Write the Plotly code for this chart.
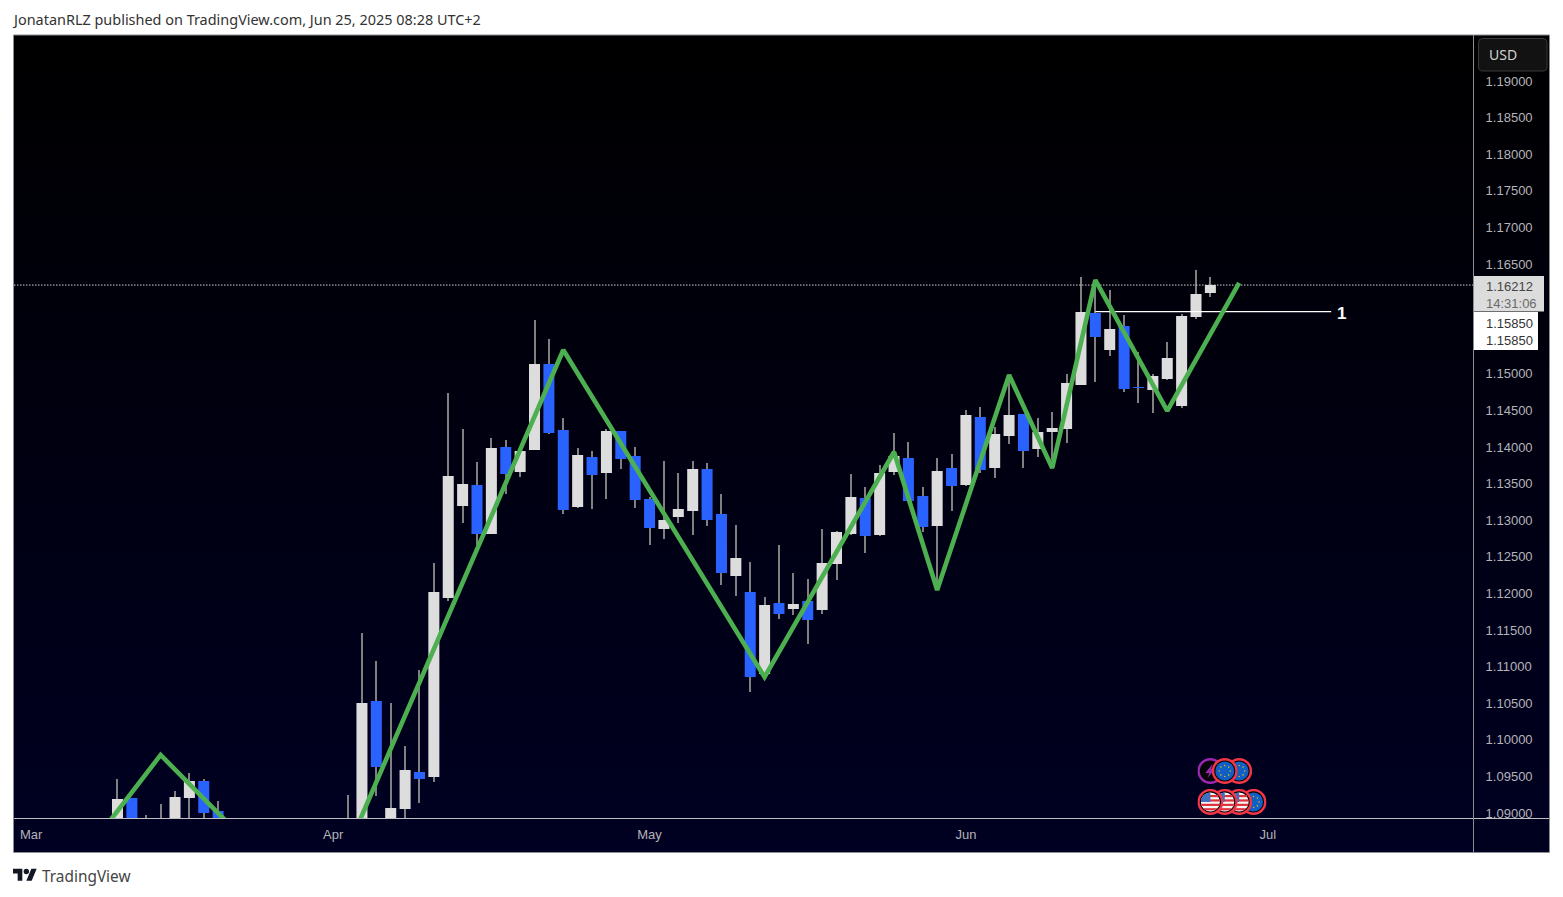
import base64
import plotly.graph_objects as go

W, H = 1563, 897

# ---- data (daily candles, index 0 = 11 Mar 2025) ----
opens = [1.0880, 1.09205, 1.0880, 1.0880, 1.0885, 1.09205, 1.09437, 1.09027,
         1.0885, 1.0860, 1.0840, 1.0835, 1.0815, 1.0800, 1.0810, 1.0815,
         1.0810, 1.0880, 1.10530, 1.0885, 1.09055, 1.09560, 1.09492, 1.11937,
         1.13194, 1.13481, 1.12812, 1.14000, 1.13659, 1.13959, 1.15134, 1.14232,
         1.13180, 1.13863, 1.13645, 1.14219, 1.13877, 1.13290, 1.12880, 1.13044,
         1.13126, 1.13699, 1.13085, 1.12238, 1.12019, 1.10899, 1.11869, 1.11787,
         1.11896, 1.11773, 1.12402, 1.12812, 1.13303, 1.12798, 1.13659, 1.13850,
         1.13331, 1.12921, 1.13713, 1.13481, 1.14410, 1.13713, 1.14150, 1.14451,
         1.13973, 1.14205, 1.14246, 1.14847, 1.15831, 1.15325, 1.15653, 1.14820,
         1.14779, 1.14929, 1.14560, 1.15776, 1.16104]
highs = [1.09465, 1.09205, 1.08973, 1.09123, 1.09300, 1.09546, 1.09465, 1.09164,
         1.0888, 1.0870, 1.0860, 1.0850, 1.0835, 1.0820, 1.0830, 1.0840,
         1.09246, 1.11459, 1.11077, 1.10503, 1.09915, 1.10954, 1.12415, 1.14738,
         1.14246, 1.13795, 1.14123, 1.14096, 1.13945, 1.15735, 1.15475, 1.14396,
         1.13986, 1.13945, 1.14246, 1.14219, 1.14000, 1.13317, 1.13809, 1.13645,
         1.13809, 1.13782, 1.13358, 1.12935, 1.12429, 1.11951, 1.12662, 1.12279,
         1.12197, 1.12880, 1.12853, 1.13631, 1.13454, 1.13754, 1.14191, 1.14068,
         1.13454, 1.13850, 1.13904, 1.14505, 1.14546, 1.14273, 1.14983, 1.14451,
         1.14396, 1.14478, 1.14997, 1.16322, 1.16281, 1.16145, 1.15803, 1.15297,
         1.14997, 1.15434, 1.15817, 1.16418, 1.16322]
lows = [1.0870, 1.0870, 1.0870, 1.0870, 1.0875, 1.0880, 1.0885, 1.0875,
        1.0850, 1.0830, 1.0820, 1.0805, 1.0790, 1.0785, 1.0790, 1.0795,
        1.0790, 1.0860, 1.09233, 1.0875, 1.0885, 1.09136, 1.09424, 1.11896,
        1.12962, 1.12662, 1.12812, 1.13358, 1.13590, 1.13959, 1.14178, 1.13085,
        1.13167, 1.13153, 1.13290, 1.13699, 1.13167, 1.12662, 1.12744, 1.12962,
        1.12798, 1.12921, 1.12115, 1.11965, 1.10654, 1.10899, 1.11651, 1.11705,
        1.11309, 1.11719, 1.12184, 1.12798, 1.12552, 1.12785, 1.13618, 1.13262,
        1.12839, 1.12046, 1.13126, 1.13467, 1.13645, 1.13577, 1.14041, 1.13713,
        1.13863, 1.13823, 1.14055, 1.14847, 1.14888, 1.15243, 1.14751, 1.14601,
        1.14465, 1.14915, 1.14533, 1.15749, 1.16049]
closes = [1.09191, 1.0880, 1.0888, 1.0890, 1.09219, 1.09437, 1.09000, 1.0885,
          1.0860, 1.0840, 1.0835, 1.0815, 1.0800, 1.0810, 1.0815, 1.0810,
          1.0880, 1.10503, 1.09629, 1.09068, 1.09587, 1.09465, 1.12019, 1.13604,
          1.13495, 1.12812, 1.13986, 1.13631, 1.13945, 1.15134, 1.14191, 1.13139,
          1.13891, 1.13618, 1.14219, 1.13836, 1.13276, 1.12894, 1.13003, 1.13153,
          1.13699, 1.13003, 1.12279, 1.12484, 1.10858, 1.11842, 1.11719, 1.11856,
          1.11637, 1.12415, 1.12839, 1.13317, 1.12785, 1.13645, 1.13877, 1.13262,
          1.12907, 1.13672, 1.13467, 1.14437, 1.13686, 1.14178, 1.14437, 1.13945,
          1.14205, 1.14260, 1.14874, 1.15844, 1.15503, 1.15612, 1.14792, 1.14806,
          1.14970, 1.15216, 1.15790, 1.16090, 1.16213]

zigzag_x = [-3, 3, 14, 31, 45, 54, 57, 62, 65, 68, 73, 78]
zigzag_y = [1.08262, 1.09793, 1.07607, 1.15325, 1.10858, 1.13932, 1.12046,
            1.14983, 1.13713, 1.16281, 1.14492, 1.16241]

level_x = [68, 84.4]
level_price = 1.15850
last_price = 1.16212
price_ticks = [1.09, 1.095, 1.10, 1.105, 1.11, 1.115, 1.12, 1.125, 1.13, 1.135,
               1.14, 1.145, 1.15, 1.165, 1.17, 1.175, 1.18, 1.185, 1.19]
month_ticks = [-6, 15, 37, 59, 80]
month_labels = ["Mar", "Apr", "May", "Jun", "Jul"]

event_x = [76, 78, 77, 79, 78, 77, 76]
event_y = [1.09574, 1.09574, 1.09574, 1.09151, 1.09151, 1.09151, 1.09151]
event_kind = ["bolt", "eu", "eu", "eu", "us", "us", "us"]

x_range = [-7.197, 94.262]
y_range = [1.08932, 1.19628]

WHITE, BLUE, GREEN = "#dddddd", "#2962ff", "#4caf50"
WICK = "#808080"
AXIS_TXT = "#b4b4b8"
FRAME = "#8c8c94"


def px(x):
    return x / W


def py(y):
    return 1 - y / H


def svg_uri(svg):
    return "data:image/svg+xml;base64," + base64.b64encode(svg.encode()).decode()


def icon(kind):
    body = ""
    ring = "#f23645"
    if kind == "eu":
        dots = "".join(
            f'<circle cx="{x}" cy="{y}" r="0.8" fill="#d8b820"/>'
            for x, y in [(13, 7.5), (16.9, 9.1), (18.5, 13), (16.9, 16.9), (13, 18.5),
                         (9.1, 16.9), (7.5, 13), (9.1, 9.1)])
        body = f'<circle cx="13" cy="13" r="9.5" fill="#0f5fc4"/>{dots}'
    elif kind == "us":
        stripes = "".join(f'<rect x="3" y="{y}" width="20" height="2.2" fill="#e0303a"/>'
                          for y in (6, 10.4, 14.8, 19.2))
        body = ('<clipPath id="c"><circle cx="13" cy="13" r="9.5"/></clipPath>'
                f'<g clip-path="url(#c)"><rect x="3" y="3" width="20" height="20" fill="#f5f5f5"/>{stripes}'
                '<rect x="3" y="3" width="10" height="10" fill="#3f6fc0"/></g>')
    else:
        ring = "#9c27b0"
        body = '<path d="M15 6 L8 15 L12 15 L10 20 L18 11 L14 11 Z" fill="#9c27b0"/>'
    return svg_uri(
        '<svg xmlns="http://www.w3.org/2000/svg" width="26" height="26" viewBox="0 0 26 26">'
        f'<circle cx="13" cy="13" r="11.8" fill="#05050a" stroke="{ring}" stroke-width="2.4"/>{body}</svg>')


def rounded(x0, y0, x1, y1, r):
    def p(x, y):
        return f"{px(x):.6f},{py(y):.6f}"
    return (f"M{p(x0 + r, y0)} L{p(x1 - r, y0)} Q{p(x1, y0)} {p(x1, y0 + r)} "
            f"L{p(x1, y1 - r)} Q{p(x1, y1)} {p(x1 - r, y1)} L{p(x0 + r, y1)} "
            f"Q{p(x0, y1)} {p(x0, y1 - r)} L{p(x0, y0 + r)} Q{p(x0, y0)} {p(x0 + r, y0)} Z")


idx = list(range(len(opens)))
body_hi = [max(o, c) for o, c in zip(opens, closes)]
body_lo = [min(o, c) for o, c in zip(opens, closes)]
wick_len = [h - l for h, l in zip(highs, lows)]

fig = go.Figure()
# wicks (bars sit under the candle bodies)
fig.add_trace(go.Bar(x=idx, y=wick_len, base=lows, width=0.07,
                     marker=dict(color=WICK, line=dict(width=0)), hoverinfo="skip"))
# bodies
fig.add_trace(go.Candlestick(
    x=idx, open=opens, high=body_hi, low=body_lo, close=closes, whiskerwidth=0,
    increasing=dict(line=dict(color=WHITE, width=0), fillcolor=WHITE),
    decreasing=dict(line=dict(color=BLUE, width=0), fillcolor=BLUE),
    hoverinfo="skip"))
# dotted last price line
fig.add_trace(go.Scatter(x=x_range, y=[last_price, last_price], mode="lines",
                         line=dict(color="#d0d0d0", width=1, dash="1.5px,1.5px"), hoverinfo="skip"))
# horizontal level
fig.add_trace(go.Scatter(x=level_x, y=[level_price, level_price], mode="lines",
                         line=dict(color="#ffffff", width=1.3), hoverinfo="skip"))
# zigzag
fig.add_trace(go.Scatter(x=zigzag_x, y=zigzag_y, mode="lines",
                         line=dict(color=GREEN, width=4.6, shape="linear"), hoverinfo="skip"))

bg = svg_uri(
    '<svg xmlns="http://www.w3.org/2000/svg" width="100" height="100" preserveAspectRatio="none">'
    '<defs><linearGradient id="g" x1="0" y1="0" x2="0" y2="1">'
    '<stop offset="0" stop-color="#000000"/><stop offset="1" stop-color="#000022"/>'
    '</linearGradient></defs><rect width="100" height="100" fill="url(#g)"/></svg>')
logo = svg_uri(
    '<svg xmlns="http://www.w3.org/2000/svg" width="36" height="28" viewBox="0 0 36 28">'
    '<path d="M14 22H7V11H0V4h14v18zM28 22h-8l7.5-18h8L28 22z" fill="#131722"/>'
    '<circle cx="20" cy="8" r="4" fill="#131722"/></svg>')

images = [dict(source=bg, xref="paper", yref="paper", x=px(13), y=py(35),
               sizex=(1549 - 13) / W, sizey=(852 - 35) / H, sizing="stretch",
               xanchor="left", yanchor="top", layer="below"),
          dict(source=logo, xref="paper", yref="paper", x=px(13), y=py(866),
               sizex=24 / W, sizey=19 / H, sizing="contain",
               xanchor="left", yanchor="top", layer="above")]
for ex, ey, kind in zip(event_x, event_y, event_kind):
    images.append(dict(source=icon(kind), xref="x", yref="y", x=ex, y=ey,
                       sizex=26 / 14.38, sizey=26 / 7320, sizing="stretch",
                       xanchor="center", yanchor="middle", layer="above"))

shapes = [
    dict(type="rect", xref="paper", yref="paper", x0=px(1474), x1=px(1548.5), y0=py(819), y1=py(851.5),
         fillcolor="#00001f", line=dict(width=0), layer="above"),
    dict(type="line", xref="paper", yref="paper", x0=px(13), x1=px(1549), y0=py(818.5), y1=py(818.5),
         line=dict(color="#c0c0c4", width=1), layer="above"),
    dict(type="line", xref="paper", yref="paper", x0=px(1473.5), x1=px(1473.5), y0=py(35), y1=py(852),
         line=dict(color=FRAME, width=1), layer="above"),
    dict(type="rect", xref="paper", yref="paper", x0=px(13.5), x1=px(1549.5), y0=py(35), y1=py(852.5),
         line=dict(color=FRAME, width=1), layer="above"),
    dict(type="path", xref="paper", yref="paper", path=rounded(1478.5, 38.5, 1547, 71, 4),
         fillcolor="#121212", line=dict(color="#3a3a3a", width=1), layer="above"),
    dict(type="rect", xref="paper", yref="paper", x0=px(1474), x1=px(1544), y0=py(276), y1=py(311.5),
         fillcolor="#dcdcdc", line=dict(width=0), layer="above"),
    dict(type="rect", xref="paper", yref="paper", x0=px(1474), x1=px(1538), y0=py(312), y1=py(350),
         fillcolor="#ffffff", line=dict(width=0), layer="above"),
]

FONT = "Noto Sans"


def note(text, x, y, size, color, family=FONT, anchor="left"):
    return dict(text=text, xref="paper", yref="paper", x=px(x), y=py(y), showarrow=False,
                xanchor=anchor, yanchor="middle", align=anchor,
                font=dict(family=family, size=size, color=color))


annotations = [
    note("JonatanRLZ published on TradingView.com, Jun 25, 2025 08:28 UTC+2", 10, 19.5, 14.45, "#333333"),
    note("TradingView", 39.5, 876, 15.4, "#444444"),
    note("USD", 1487, 54.5, 14, "#d0d0d0"),
    note(f"{last_price:.5f}<br><span style='color:#6a6a6a'>14:31:06</span>",
         1484, 294.5, 13, "#444444", "Liberation Sans"),
    note(f"{level_price:.5f}<br>{level_price:.5f}", 1484, 331.5, 13, "#333333", "Liberation Sans"),
    dict(text="1", xref="x", yref="y", x=85.15, y=level_price, yshift=-1.5, showarrow=False,
         xanchor="center", yanchor="middle",
         font=dict(family="Liberation Sans", size=17, color="#ffffff", weight="bold")),
]

fig.update_layout(
    width=W, height=H, margin=dict(l=0, r=0, t=0, b=0, autoexpand=False),
    paper_bgcolor="#ffffff", plot_bgcolor="rgba(0,0,0,0)", showlegend=False,
    barmode="overlay", boxmode="overlay", boxgap=0.125, boxgroupgap=0.125, hovermode=False,
    images=images, shapes=shapes, annotations=annotations,
    xaxis=dict(domain=[px(14), px(1473)], range=x_range, rangeslider=dict(visible=False),
               showgrid=False, zeroline=False, showline=False, tickmode="array",
               tickvals=month_ticks, ticktext=month_labels, ticks="outside", ticklen=4.5,
               tickcolor="rgba(0,0,0,0)",
               tickfont=dict(family="Liberation Sans", size=13, color=AXIS_TXT), fixedrange=True),
    yaxis=dict(domain=[py(818), py(35)], range=y_range, side="right", showgrid=False,
               zeroline=False, showline=False, tickmode="array", tickvals=price_ticks,
               tickformat=".5f", ticks="outside", ticklen=9, tickcolor="rgba(0,0,0,0)",
               tickfont=dict(family="Liberation Sans", size=13, color=AXIS_TXT), fixedrange=True),
)

fig.write_html("out.html", config={"displayModeBar": False},
               post_script="document.body.style.margin='0';")
